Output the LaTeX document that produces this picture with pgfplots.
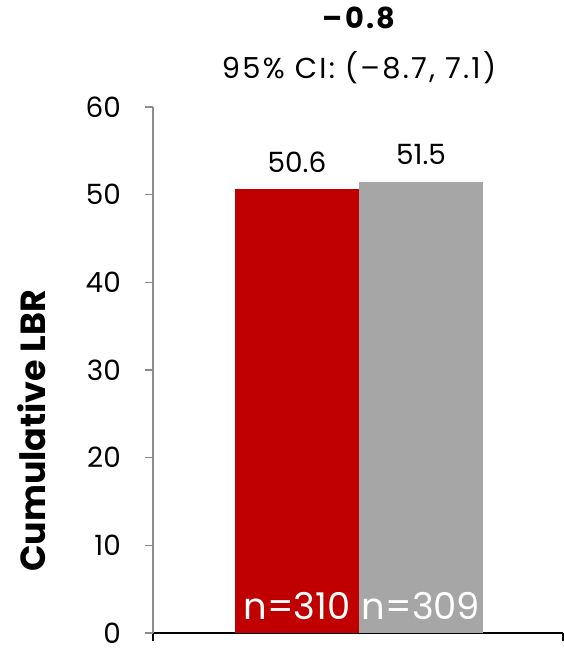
\documentclass[border=0pt]{standalone}
\usepackage{fontspec}
\setmainfont{Poppins}
\newfontfamily\widefont[LetterSpace=8]{Poppins}
\usepackage{pgfplots}
\pgfplotsset{compat=1.18}
\definecolor{barred}{HTML}{C00000}
\definecolor{bargray}{HTML}{A6A6A6}
\definecolor{axisgray}{HTML}{8C8C8C}
\begin{document}
\fontsize{28}{33}\selectfont
\begin{tikzpicture}[x=1bp,y=1bp]
\begin{axis}[
  at={(153bp,16bp)}, anchor=south west,
  scale only axis, width=410bp, height=526bp,
  xmin=0, xmax=410, ymin=0, ymax=60,
  clip=false,
  axis x line*=bottom, axis y line*=left,
  x axis line style={black, line width=1.5pt, -},
  y axis line style={axisgray, line width=1.3pt, -},
  xtick={0,410}, xticklabels={},
  x tick style={black, line width=1.5pt},
  xtick align=outside, major tick length=8bp,
  ytick={0,10,...,60},
  y tick style={axisgray, line width=1.3pt},
  ytick align=outside,
  /pgf/number format/assume math mode=true,
  yticklabel style={anchor=east, inner sep=0pt, xshift=-24bp, font=\fontsize{28}{33}\selectfont},
  ybar, bar shift=0pt, bar width=124,
  nodes near coords, point meta=y,
  every node near coord/.append style={anchor=base, yshift=17bp, black, font=\fontsize{28}{33}\selectfont,
    /pgf/number format/.cd, fixed, fixed zerofill, precision=1},
]
\addplot[fill=barred, draw=none] coordinates {(144,50.6)};
\addplot[fill=bargray, draw=none] coordinates {(268,51.5)};
\node[anchor=base, text=white, font=\fontsize{37}{42}\selectfont] at (axis cs:144,0) [yshift=13bp] {n=310};
\node[anchor=base, text=white, font=\fontsize{37}{42}\selectfont] at (axis cs:268,0) [yshift=13bp] {n=309};
\node[anchor=base, font=\widefont\bfseries\fontsize{29}{34}\selectfont] at (axis cs:206,68.9) {–0.8};
\node[anchor=base, font=\widefont\fontsize{29}{34}\selectfont] at (axis cs:206,63.2) {95\% CI: (–8.7, 7.1)};
\end{axis}
\node[rotate=90, font=\bfseries\fontsize{35}{40}\selectfont] at (32,218) {Cumulative LBR};
\pgfresetboundingbox
\path (0,0) rectangle (564,649);
\end{tikzpicture}
\end{document}
